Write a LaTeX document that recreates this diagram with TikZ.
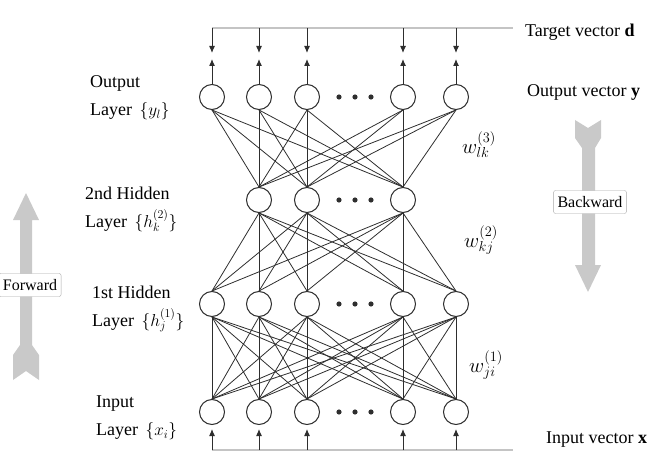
\documentclass[tikz,border=0pt]{standalone}
\usepackage{fontspec}
\setmainfont{Liberation Serif}
\usetikzlibrary{arrows.meta}
\definecolor{Ink}{HTML}{2E2E2E}
\definecolor{Pale}{HTML}{C9C9C9}
\definecolor{Rule}{HTML}{C4C4C4}
\definecolor{Frame}{HTML}{A8A8A8}
\tikzset{
  unit/.style={circle, draw=Ink, line width=1pt, fill=white,
    minimum size=25pt, inner sep=0pt},
  link/.style={draw=Ink, line width=0.8pt},
  arrow/.style={-{Latex[length=7pt,width=6pt]}, line width=1pt, draw=Ink},
  rail/.style={draw=Rule, line width=1.3pt},
  tag/.style={rectangle, rounded corners=2pt, draw=Frame, fill=white,
    font=\fontsize{16}{18}\selectfont, inner xsep=4pt, minimum height=23pt},
  layer/.style={anchor=west, align=left, inner sep=0pt,
    font=\fontsize{18}{28}\selectfont},
  vec/.style={anchor=base west, inner sep=0pt, font=\fontsize{18}{20}\selectfont},
  weight/.style={font=\fontsize{22}{24}\selectfont},
  bigarrow/.style={fill=Pale, draw=none}
}
\begin{document}
\begin{tikzpicture}[x=1pt, y=-1pt]
  \useasboundingbox (0,0) rectangle (654,452);

  \fill[bigarrow] (26,193) -- (39,220) -- (32,220) -- (32,345) -- (39,355) -- (39,380)
    -- (26,371) -- (13,380) -- (13,355) -- (20,345) -- (20,220) -- (13,220) -- cycle;
  \fill[bigarrow] (575,120) -- (588,128) -- (601,120) -- (601,138) -- (595,148) -- (595,265)
    -- (601,265) -- (588,292) -- (575,265) -- (582,265) -- (582,148) -- (575,138) -- cycle;
  \node[tag] (fwd) at (30,285) {Forward};
  \node[tag] (bwd) at (590,202) {Backward};

  \foreach \i/\x in {1/212,2/259,3/307,4/403,5/456} {
    \node[unit] (y\i) at (\x,97) {};
    \node[unit] (hj\i) at (\x,304) {};
    \node[unit] (x\i) at (\x,412) {};
    \coordinate (d\i) at (\x,28);
    \coordinate (dn\i) at (\x,53);
    \coordinate (up\i) at (\x,59);
    \coordinate (b\i) at (\x,450);
  }
  \foreach \i/\x in {2/259,3/307,4/403}
    \node[unit] (hk\i) at (\x,200) {};
  \coordinate (dend) at (513,28);
  \coordinate (bend) at (513,450);

  \foreach \yy in {97,200,304,412}
    \foreach \x in {339,355,371}
      \fill[Ink] (\x,\yy) circle (2.6pt);

  \foreach \a in {1,...,5}
    \foreach \b in {2,3,4}
      \draw[link] (y\a.south) -- (hk\b.north);
  \foreach \a in {2,3,4}
    \foreach \b in {1,...,5}
      \draw[link] (hk\a.south) -- (hj\b.north);
  \foreach \a in {1,...,5}
    \foreach \b in {1,...,5}
      \draw[link] (hj\a.south) -- (x\b.north);

  \draw[rail] (d1) -- (dend);
  \draw[rail] (b1) -- (bend);
  \foreach \i in {1,...,5} {
    \draw[arrow] (d\i) -- (dn\i);
    \draw[arrow] (y\i) -- (up\i);
    \draw[arrow, shorten >=4pt] (b\i) -- (x\i);
  }

  \node[layer] (lout) at (90,98) {Output\\Layer\, $\{y_l\}$};
  \node[layer] (lhk) at (85,209) {2nd Hidden\\Layer\, $\{h^{(2)}_k\}$};
  \node[layer] (lhj) at (92,309) {1st Hidden\\Layer\, $\{h^{(1)}_j\}$};
  \node[layer] (lin) at (96,418) {Input\\Layer\, $\{x_i\}$};

  \node[vec] (target) at (525,37) {Target vector \textbf{d}};
  \node[vec] (outvec) at (527,97) {Output vector \textbf{y}};
  \node[vec] (invec) at (546,443) {Input vector \textbf{x}};

  \node[weight] (w3) at (479,145) {$w^{(3)}_{lk}$};
  \node[weight] (w2) at (481,240) {$w^{(2)}_{kj}$};
  \node[weight] (w1) at (486,365) {$w^{(1)}_{ji}$};
\end{tikzpicture}
\end{document}
